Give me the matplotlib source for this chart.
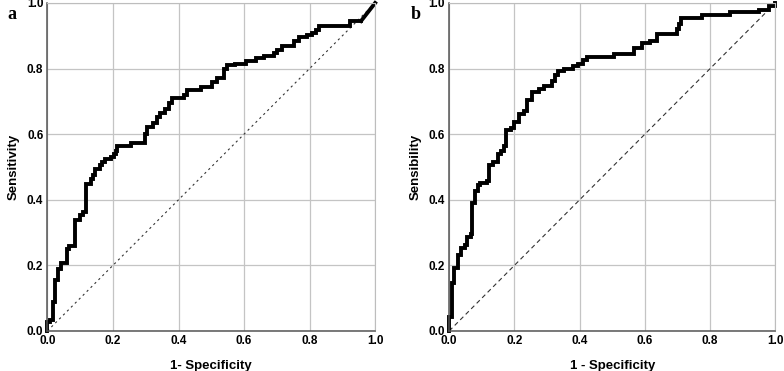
"""
ROC curves, panels a and b (step curves read off the published figure).
"""
import matplotlib
matplotlib.use("Agg")
import matplotlib.pyplot as plt

# panel a: ROC corner points (1 - specificity, sensitivity)
fpr_a = [0, 0, 0.008, 0.016, 0.023, 0.033, 0.041, 0.059, 0.067, 0.084,
         0.099, 0.109, 0.119, 0.134, 0.139, 0.144, 0.160, 0.165, 0.175, 0.195,
         0.202, 0.208, 0.213, 0.256, 0.299, 0.305, 0.321, 0.333, 0.343, 0.358,
         0.371, 0.381, 0.417, 0.427, 0.468, 0.503, 0.518, 0.538, 0.548, 0.573,
         0.605, 0.636, 0.661, 0.692, 0.702, 0.717, 0.752, 0.767, 0.793, 0.808,
         0.821, 0.828, 0.922, 0.957]
tpr_a = [0, 0.027, 0.032, 0.088, 0.156, 0.190, 0.207, 0.250, 0.258, 0.337,
         0.352, 0.362, 0.449, 0.462, 0.474, 0.494, 0.505, 0.515, 0.523, 0.530,
         0.540, 0.550, 0.565, 0.574, 0.600, 0.623, 0.635, 0.653, 0.664, 0.677,
         0.694, 0.711, 0.719, 0.736, 0.745, 0.758, 0.770, 0.800, 0.810, 0.815,
         0.824, 0.831, 0.839, 0.848, 0.858, 0.868, 0.883, 0.897, 0.902, 0.907,
         0.917, 0.929, 0.945, 0.945]
# last segment of curve a is a straight tie line to (1, 1)
tail_a_x = [0.957, 1.0]
tail_a_y = [0.945, 1.0]

# panel b
fpr_b = [0, 0, 0.008, 0.016, 0.027, 0.037, 0.047, 0.054, 0.067, 0.071,
         0.080, 0.088, 0.095, 0.115, 0.122, 0.133, 0.148, 0.159, 0.169, 0.174,
         0.188, 0.199, 0.213, 0.228, 0.238, 0.254, 0.274, 0.292, 0.314, 0.325,
         0.335, 0.352, 0.380, 0.396, 0.410, 0.422, 0.506, 0.567, 0.590, 0.615,
         0.636, 0.697, 0.703, 0.711, 0.775, 0.862, 0.949, 0.980, 1.0]
tpr_b = [0, 0.043, 0.145, 0.191, 0.232, 0.252, 0.262, 0.285, 0.295, 0.390,
         0.426, 0.446, 0.451, 0.458, 0.505, 0.514, 0.538, 0.548, 0.563, 0.612,
         0.620, 0.637, 0.660, 0.670, 0.705, 0.729, 0.738, 0.748, 0.763, 0.779,
         0.793, 0.799, 0.807, 0.815, 0.825, 0.835, 0.845, 0.862, 0.877, 0.885,
         0.905, 0.920, 0.935, 0.955, 0.963, 0.972, 0.980, 0.990, 1.0]

ticks = [0.0, 0.2, 0.4, 0.6, 0.8, 1.0]
tick_labels = ["0.0", "0.2", "0.4", "0.6", "0.8", "1.0"]

plt.rcParams["font.family"] = ["Liberation Sans", "DejaVu Sans"]

fig = plt.figure(figsize=(7.84, 3.71), dpi=100)
ax_a = fig.add_axes([0.0605, 0.108, 0.418, 0.884])
ax_b = fig.add_axes([0.573, 0.108, 0.416, 0.884])


def style(ax, ylabel, xlabel):
    ax.set_xlim(0, 1)
    ax.set_ylim(0, 1)
    ax.set_xticks(ticks)
    ax.set_yticks(ticks)
    ax.set_xticklabels(tick_labels, fontsize=8.5, fontweight="bold")
    ax.set_yticklabels(tick_labels, fontsize=8.5, fontweight="bold")
    ax.tick_params(length=0, pad=3)
    ax.grid(True, color="#c4c4c4", lw=0.9)
    ax.set_axisbelow(True)
    for s in ["top", "right"]:
        ax.spines[s].set_color("#bdbdbd")
    for s in ["left", "bottom"]:
        ax.spines[s].set_color("#555555")
        ax.spines[s].set_linewidth(1.1)
    ax.set_ylabel(ylabel, fontsize=9.5, fontweight="bold", labelpad=5)
    ax.set_xlabel(xlabel, fontsize=9.5, fontweight="bold", labelpad=9)


ax_a.plot([0, 1], [0, 1], color="#333333", lw=0.8, ls=(0, (2, 3)))
ax_a.plot(fpr_a, tpr_a, drawstyle="steps-post", color="black", lw=2.8,
          solid_joinstyle="miter", clip_on=False)
ax_a.plot(tail_a_x, tail_a_y, color="black", lw=2.8, clip_on=False)
style(ax_a, "Sensitivity", "1- Specificity")

ax_b.plot([0, 1], [0, 1], color="#333333", lw=0.8, ls=(0, (4, 3)))
ax_b.plot(fpr_b, tpr_b, drawstyle="steps-post", color="black", lw=2.8,
          solid_joinstyle="miter", clip_on=False)
style(ax_b, "Sensibility", "1 - Specificity")

fig.text(0.010, 0.948, "a", family=["Liberation Serif", "DejaVu Serif"],
         fontsize=13, fontweight="bold")
fig.text(0.524, 0.948, "b", family=["Liberation Serif", "DejaVu Serif"],
         fontsize=13, fontweight="bold")

fig.savefig("out.png", dpi=100)
